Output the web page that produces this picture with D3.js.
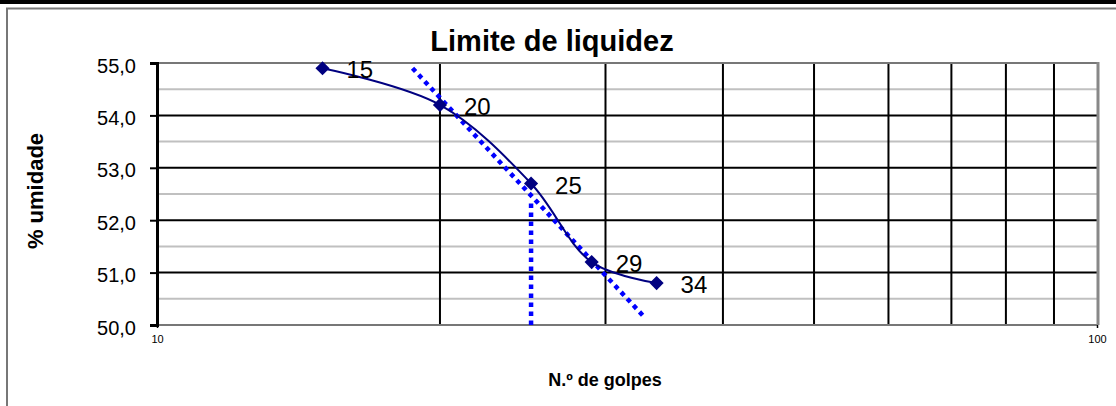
<!DOCTYPE html>
<html>
<head>
<meta charset="utf-8">
<script src="https://cdn.jsdelivr.net/npm/d3@7"></script>
<style>
  body { margin: 0; background: #fff; }
  text { font-family: Arial, "Liberation Sans", sans-serif; }
</style>
</head>
<body>
<div id="chart"></div>
<script>
// Data points: number of blows vs moisture content
const golpes = [15, 20, 25, 29, 34];
const umidade = [54.9, 54.2, 52.7, 51.2, 50.8];

// Hand-drawn straight (log-space) line and the reading at 25 blows
const trendX = [18.7, 33.0];
const trendY = [54.9, 50.15];
const readX = [25, 25];
const readY = [50.0, 52.4];

const yTicks = [50, 51, 52, 53, 54, 55];
const yMinor = [50.5, 51.5, 52.5, 53.5, 54.5];
const xGrid = [20, 30, 40, 50, 60, 70, 80, 90];
const xLabels = [10, 100];

const W = 1116, H = 406;
const plot = { left: 157, top: 63, right: 1097, bottom: 325 };

const svg = d3.select("#chart").append("svg")
    .attr("width", W)
    .attr("height", H);

// Frame: black strip on top, grey chart border
svg.append("rect").attr("x", 0).attr("y", 0).attr("width", W).attr("height", 4).attr("fill", "#000");
svg.append("line").attr("x1", 6).attr("x2", W).attr("y1", 8.5).attr("y2", 8.5)
    .attr("stroke", "#777").attr("stroke-width", 2);
svg.append("line").attr("x1", 7).attr("x2", 7).attr("y1", 8).attr("y2", H)
    .attr("stroke", "#777").attr("stroke-width", 2);

const x = d3.scaleLog().domain([10, 100]).range([plot.left, plot.right]);
const y = d3.scaleLinear().domain([50, 55]).range([plot.bottom, plot.top]);

// Minor horizontal gridlines
svg.append("g").selectAll("line")
    .data(yMinor)
    .enter().append("line")
    .attr("x1", plot.left).attr("x2", plot.right)
    .attr("y1", d => y(d)).attr("y2", d => y(d))
    .attr("stroke", "#c0c0c0").attr("stroke-width", 2);

// Major horizontal gridlines
svg.append("g").selectAll("line")
    .data(yTicks.filter(d => d > 50 && d < 55))
    .enter().append("line")
    .attr("x1", plot.left).attr("x2", plot.right)
    .attr("y1", d => y(d)).attr("y2", d => y(d))
    .attr("stroke", "#000").attr("stroke-width", 2);

// Vertical gridlines
svg.append("g").selectAll("line")
    .data(xGrid)
    .enter().append("line")
    .attr("x1", d => x(d)).attr("x2", d => x(d))
    .attr("y1", plot.top).attr("y2", plot.bottom)
    .attr("stroke", "#000").attr("stroke-width", 2);

// Plot border (top, bottom, right grey)
svg.append("line").attr("x1", plot.left).attr("x2", plot.right + 1)
    .attr("y1", plot.top).attr("y2", plot.top).attr("stroke", "#777").attr("stroke-width", 2);
svg.append("line").attr("x1", plot.left).attr("x2", plot.right + 1)
    .attr("y1", plot.bottom).attr("y2", plot.bottom).attr("stroke", "#777").attr("stroke-width", 2);
svg.append("line").attr("x1", plot.right + 1).attr("x2", plot.right + 1)
    .attr("y1", plot.top - 1).attr("y2", plot.bottom).attr("stroke", "#888").attr("stroke-width", 3);

// Y axis
const yAxis = svg.append("g")
    .attr("transform", `translate(${plot.left},0)`)
    .call(d3.axisLeft(y).tickValues(yTicks).tickSize(7).tickPadding(14)
        .tickFormat(d => d3.format(".1f")(d).replace(".", ",")));
yAxis.select(".domain").attr("stroke", "#000").attr("stroke-width", 3);
yAxis.selectAll(".tick line").attr("stroke", "#000").attr("stroke-width", 2);
yAxis.selectAll("text").attr("font-size", 20).attr("fill", "#000").attr("dy", "0.45em")
    .style("font-family", "Arial, 'Liberation Sans', sans-serif");

// X axis labels (only the decades)
const xAxis = svg.append("g")
    .attr("transform", `translate(0,${plot.bottom})`)
    .call(d3.axisBottom(x).tickValues(xLabels).tickSize(3).tickPadding(7).tickFormat(d3.format("d")));
xAxis.select(".domain").remove();
xAxis.selectAll(".tick line").attr("stroke", "#000").attr("stroke-width", 1.5);
xAxis.selectAll("text").attr("font-size", 11).attr("fill", "#000")
    .style("font-family", "Arial, 'Liberation Sans', sans-serif");

// Dotted reading lines
const straight = d3.line().x(d => x(d[0])).y(d => y(d[1]));
svg.append("path")
    .attr("d", straight(d3.zip(trendX, trendY)))
    .attr("fill", "none").attr("stroke", "#0000ff")
    .attr("stroke-width", 4.5).attr("stroke-dasharray", "4.5,4.5");
svg.append("path")
    .attr("d", straight(d3.zip(readX, readY)))
    .attr("fill", "none").attr("stroke", "#0000ff")
    .attr("stroke-width", 4.5).attr("stroke-dasharray", "4.5,4.5");

// Smoothed series line
const pts = d3.zip(golpes, umidade);
const smooth = d3.line().x(d => x(d[0])).y(d => y(d[1])).curve(d3.curveCatmullRom.alpha(0.5));
svg.append("path")
    .attr("d", smooth(pts))
    .attr("fill", "none").attr("stroke", "#000080").attr("stroke-width", 2);

// Diamond markers
svg.append("g").selectAll("path")
    .data(pts)
    .enter().append("path")
    .attr("d", d3.symbol(d3.symbolSquare, 100)())
    .attr("transform", d => `translate(${x(d[0])},${y(d[1])}) rotate(45)`)
    .attr("fill", "#000080");

// Point labels
svg.append("g").selectAll("text")
    .data(pts)
    .enter().append("text")
    .attr("x", d => x(d[0]) + 24)
    .attr("y", d => y(d[1]) + 10)
    .attr("font-size", 24)
    .attr("fill", "#000")
    .text(d => d[0]);

// Titles
svg.append("text")
    .attr("x", 552).attr("y", 51)
    .attr("text-anchor", "middle")
    .attr("font-size", 29).attr("font-weight", "bold")
    .text("Limite de liquidez");

svg.append("text")
    .attr("x", 605).attr("y", 386)
    .attr("text-anchor", "middle")
    .attr("font-size", 18).attr("font-weight", "bold")
    .text("N.º de golpes");

svg.append("text")
    .attr("transform", "translate(43,191) rotate(-90)")
    .attr("text-anchor", "middle")
    .attr("font-size", 22).attr("font-weight", "bold")
    .text("% umidade");
</script>
</body>
</html>
